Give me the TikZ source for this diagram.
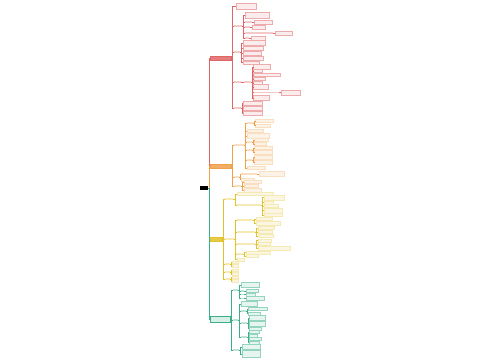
\documentclass[tikz,border=0pt]{standalone}
\usepackage{tikz}
\usetikzlibrary{positioning,calc}
\definecolor{redc}{HTML}{E06666}
\definecolor{orgc}{HTML}{F0A04B}
\definecolor{ylwc}{HTML}{E2C229}
\definecolor{grnc}{HTML}{3BAF8A}

\begin{document}
\begin{tikzpicture}[x=1pt, y=-1pt,
  every node/.style={inner sep=0pt, outer sep=0pt, anchor=west},
  leaf/.style={draw=#1!55, fill=#1!12, line width=0.25pt, minimum height=4},
  note/.style={draw=#1!35, fill=#1!14, line width=0.2pt, minimum height=3},
  tag/.style={fill=#1!35, minimum height=1.5},
  ln/.style={draw=#1, line width=0.35pt},
  trunk/.style={draw=#1, line width=0.8pt},
  branch/.style={draw=#1, fill=#1!85, line width=0.3pt, minimum height=4}]
\fill[white] (0,0) rectangle (500,360);
\useasboundingbox (0,0) rectangle (500,360);

\node[fill=black, minimum width=8, minimum height=4] (root) at (200,188) {};

\node[branch=redc, minimum width=21] (red) at (210,58) {};
\node[branch=orgc, minimum width=21] (org) at (210,166) {};
\node[branch=ylwc, minimum width=12] (ylw) at (210,239) {};
\node[draw=grnc, fill=grnc!20, line width=0.3pt, minimum width=20, minimum height=6] (grn) at (210,319) {};

\draw[trunk=redc] (root.east) -- ++(1,0) |- (red.west);
\draw[trunk=orgc] (root.east) -- ++(1,0) |- (org.west);
\draw[trunk=ylwc] (root.east) -- ++(1,0) |- (ylw.west);
\draw[trunk=grnc] (root.east) -- ++(1,0) |- (grn.west);

% red branch
\node[leaf=redc, minimum width=20, minimum height=6] (rA) at (236,6) {};
\node[tag=redc, minimum width=8] (rB) at (234,26) {};
\node[tag=redc, minimum width=6] (rC) at (234,52) {};
\node[tag=redc, minimum width=7] (rD) at (234,82) {};
\node[tag=redc, minimum width=7] (rE) at (234,108) {};
\foreach \n in {rA,rB,rC,rD,rE} \draw[ln=redc] (red.east) -- ++(1.5,0) |- (\n.west);

\node[leaf=redc, minimum width=24, minimum height=6] (rB1) at (245,15) {};
\foreach \i/\y/\w/\v in {2/22/7/18, 3/27/5/13, 4/33/28/17, 5/38/4/14} {
  \node[tag=redc, minimum width=\w] (rB\i) at (245,\y) {};
  \node[leaf=redc, minimum width=\v] (rBl\i) at ([xshift=2]rB\i.east) {};
  \draw[ln=redc] (rB\i.east) -- (rBl\i.west);
}
\foreach \i in {1,...,5} \draw[ln=redc] (rB.east) -- ++(1.5,0) |- (rB\i.west);

\foreach \i/\y/\w/\h in {1/43/22/5, 2/48/20/4, 3/53/18/4, 4/58/20/4, 5/62.5/16/3} {
  \node[leaf=redc, minimum width=\w, minimum height=\h] (rC\i) at (243,\y) {};
  \draw[ln=redc] (rC.east) -- ++(1.5,0) |- (rC\i.west);
}

\node[tag=redc, minimum width=7] (rDD) at (244,82) {};
\draw[ln=redc] (rD.east) -- (rDD.west);
\foreach \i/\y/\w/\h in {1/67/17/5, 2/71/9/3, 3/75/27/3, 4/79/12/3, 5/83/9/3, 6/87/15/5, 8/98/16/5} {
  \node[leaf=redc, minimum width=\w, minimum height=\h] (rD\i) at (253,\y) {};
  \draw[ln=redc] (rDD.east) -- ++(1.5,0) |- (rD\i.west);
}
\node[tag=redc, minimum width=26] (rD7) at (253,92.5) {};
\node[leaf=redc, minimum width=19, minimum height=5] (rDl7) at (281,92.5) {};
\draw[ln=redc] (rDD.east) -- ++(1.5,0) |- (rD7.west);
\draw[ln=redc] (rD7.east) -- (rDl7.west);

\foreach \i/\y in {1/103, 2/108, 3/113} {
  \node[leaf=redc, minimum width=19] (rE\i) at (243,\y) {};
  \draw[ln=redc] (rE.east) -- ++(1,0) |- (rE\i.west);
}

% orange branch
\node[tag=orgc, minimum width=10] (oF) at (234,145) {};
\node[tag=orgc, minimum width=5] (oG) at (234,177) {};
\node[tag=orgc, minimum width=7] (oH) at (234,186) {};
\foreach \n in {oF,oG,oH} \draw[ln=orgc] (org.east) -- ++(1.5,0) |- (\n.west);

\node[tag=orgc, minimum width=6] (oF1) at (247,123) {};
\node[note=orgc, minimum width=16] (oF2) at (247,131) {};
\node[note=orgc, minimum width=22, minimum height=5] (oF3) at (247,136) {};
\node[tag=orgc, minimum width=5] (oF4) at (247,142) {};
\node[tag=orgc, minimum width=5] (oF5) at (247,150) {};
\node[tag=orgc, minimum width=5] (oF6) at (247,160) {};
\node[note=orgc, minimum width=18] (oF7) at (247,168) {};
\foreach \i in {1,...,7} \draw[ln=orgc] (oF.east) -- ++(1.5,0) |- (oF\i.west);
\foreach \p/\i/\y/\w/\h in {oF1/1/121/18/3, oF1/2/125.5/15/3, oF4/1/140/14/3, oF4/2/144/12/3,
    oF5/1/148/18/3, oF5/2/152.5/18/4, oF6/1/157.5/18/4, oF6/2/162/18/4} {
  \node[note=orgc, minimum width=\w, minimum height=\h] (\p s\i) at ([xshift=2.5]\p.east |- 0,\y) {};
  \draw[ln=orgc] (\p.east) -- ++(1,0) |- (\p s\i.west);
}

\node[tag=orgc, minimum width=16] (oG1) at (241,174) {};
\node[note=orgc, minimum width=25, minimum height=5] (oGl1) at (259,174) {};
\node[note=orgc, minimum width=13] (oG2) at (241,179.5) {};
\draw[ln=orgc] (oG1.east) -- (oGl1.west);
\foreach \i in {1,2} \draw[ln=orgc] (oG.east) -- ++(1,0) |- (oG\i.west);

\foreach \i/\y/\w/\h in {1/182/17/3, 2/186/14/3, 3/190/17/4} {
  \node[note=orgc, minimum width=\w, minimum height=\h] (oH\i) at (244,\y) {};
  \draw[ln=orgc] (oH.east) -- ++(1.5,0) |- (oH\i.west);
}

% yellow branch
\node[tag=ylwc, minimum width=8] (yA) at (225,199) {};
\node[tag=ylwc, minimum width=9] (yB) at (225,239) {};
\node[tag=ylwc, minimum width=5] (yC) at (225,264) {};
\node[tag=ylwc, minimum width=5] (yD) at (225,272) {};
\node[tag=ylwc, minimum width=5] (yE) at (225,279) {};
\foreach \n in {yA,yB,yC,yD,yE} \draw[ln=ylwc] (ylw.east) -- ++(1.5,0) |- (\n.west);

\node[note=ylwc, minimum width=36] (yA1) at (237,194) {};
\node[tag=ylwc, minimum width=24] (yA2) at (237,205) {};
\foreach \i in {1,2} \draw[ln=ylwc] (yA.east) -- ++(2,0) |- (yA\i.west);
\foreach \i/\y/\w/\h in {1/197.5/20/5, 2/202.5/9/3, 3/206/14/3, 4/210.5/18/5, 5/215/18/3} {
  \node[note=ylwc, minimum width=\w, minimum height=\h] (yA2s\i) at (264,\y) {};
  \draw[ln=ylwc] (yA2.east) -- ++(1.5,0) |- (yA2s\i.west);
}

\node[tag=ylwc, minimum width=16] (yB1) at (237,220) {};
\node[tag=ylwc, minimum width=18] (yB2) at (237,232) {};
\node[tag=ylwc, minimum width=18] (yB3) at (237,244) {};
\node[tag=ylwc, minimum width=6] (yB4) at (237,254) {};
\node[note=ylwc, minimum width=7] (yB5) at (237,259.5) {};
\foreach \i in {1,...,5} \draw[ln=ylwc] (yB.east) -- ++(1.5,0) |- (yB\i.west);
\foreach \p/\i/\y/\w/\h in {yB1/1/219/16/3, yB1/2/223/24/4, yB2/1/228/16/3, yB2/2/232/14/3,
    yB2/3/236/15/3, yB3/1/240.5/13/3, yB3/2/244/12/3, yB3/3/248/32/4, yB4/1/252.5/24/3, yB4/2/256/12/3} {
  \node[note=ylwc, minimum width=\w, minimum height=\h] (\p s\i) at ([xshift=3]\p.east |- 0,\y) {};
  \draw[ln=ylwc] (\p.east) -- ++(1.5,0) |- (\p s\i.west);
}
\foreach \p/\y in {yC/264, yD/272, yE/279} {
  \node[note=ylwc, minimum width=6, minimum height=2.5] (\p1) at (232,\y-2) {};
  \node[note=ylwc, minimum width=6, minimum height=2.5] (\p2) at (232,\y+1.8) {};
  \foreach \i in {1,2} \draw[ln=ylwc] (\p.east) -- ++(1,0) |- (\p\i.west);
}

% green branch
\node[tag=grnc, minimum width=5] (gA) at (233,290) {};
\node[tag=grnc, minimum width=5] (gB) at (233,320) {};
\node[tag=grnc, minimum width=6] (gC) at (233,350) {};
\foreach \n in {gA,gB,gC} \draw[ln=grnc] (grn.east) -- ++(1.5,0) |- (\n.west);

\node[leaf=grnc, minimum width=18, minimum height=5] (gA1) at (241,285) {};
\draw[ln=grnc] (gA.east) -- ++(1.5,0) |- (gA1.west);
\foreach \i/\y/\w/\h in {2/291/12/3, 3/294.5/9/3, 4/298.5/18/4} {
  \node[tag=grnc, minimum width=3] (gA\i) at (241,\y) {};
  \node[leaf=grnc, minimum width=\w, minimum height=\h] (gAl\i) at (246,\y) {};
  \draw[ln=grnc] (gA.east) -- ++(1.5,0) |- (gA\i.west);
  \draw[ln=grnc] (gA\i.east) -- (gAl\i.west);
}

\node[leaf=grnc, minimum width=16, minimum height=5] (gB1) at (241,304) {};
\node[tag=grnc, minimum width=5] (gB2) at (241,311) {};
\node[tag=grnc, minimum width=6] (gB3) at (241,323) {};
\node[tag=grnc, minimum width=6] (gB4) at (241,337) {};
\foreach \i in {1,...,4} \draw[ln=grnc] (gB.east) -- ++(1.5,0) |- (gB\i.west);
\foreach \p/\i/\y/\w/\h in {gB2/1/309/19/3, gB2/2/313.5/12/3, gB3/1/318/16/5, gB3/2/323.5/16/5,
    gB3/3/328.5/12/3, gB4/1/332/10/3, gB4/2/335.5/8/3, gB4/3/339/12/3, gB4/4/342.5/10/3} {
  \node[leaf=grnc, minimum width=\w, minimum height=\h] (\p s\i) at ([xshift=2]\p.east |- 0,\y) {};
  \draw[ln=grnc] (\p.east) -- ++(1,0) |- (\p s\i.west);
}

\foreach \i/\y/\h in {1/347/5, 2/354/7} {
  \node[leaf=grnc, minimum width=18, minimum height=\h] (gC\i) at (242,\y) {};
  \draw[ln=grnc] (gC.east) -- ++(1.5,0) |- (gC\i.west);
}

\end{tikzpicture}
\end{document}
